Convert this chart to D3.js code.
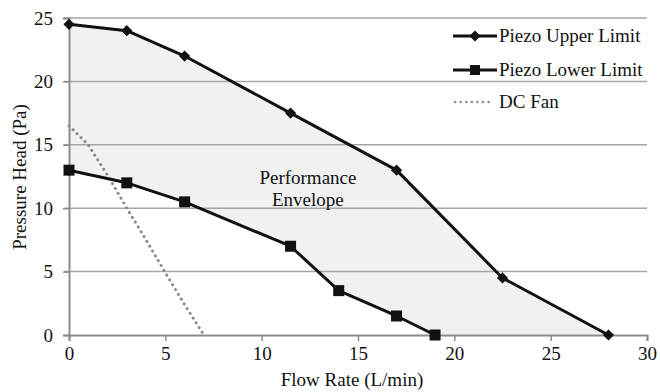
<!DOCTYPE html>
<html>
<head>
<meta charset="utf-8">
<script src="https://cdn.jsdelivr.net/npm/d3@7"></script>
</head>
<body style="margin:0;background:#fff">
<svg id="chart" width="660" height="392"></svg>
<script>
// data
const upperFlow = [0, 3, 6, 11.5, 17, 22.5, 28];
const upperHead = [24.5, 24, 22, 17.5, 13, 4.5, 0];
const lowerFlow = [0, 3, 6, 11.5, 14, 17, 19];
const lowerHead = [13, 12, 10.5, 7, 3.5, 1.5, 0];
const fanFlow = [0, 1, 2, 3, 4, 5, 6, 7];
const fanHead = [16.5, 15, 12.6, 10, 7.5, 4.9, 2.4, 0];
const xTicks = [0, 5, 10, 15, 20, 25, 30];
const yTicks = [0, 5, 10, 15, 20, 25];

const zip = (xs, ys) => xs.map((x, i) => ({ x: x, y: ys[i] }));
const upper = zip(upperFlow, upperHead);
const lower = zip(lowerFlow, lowerHead);
const fan = zip(fanFlow, fanHead);

const margin = { top: 18, right: 13, bottom: 57, left: 69 };
const width = 660, height = 392;
const chartW = width - margin.left - margin.right;
const chartH = height - margin.top - margin.bottom;

const svg = d3.select('#chart');
const g = svg.append('g').attr('transform', `translate(${margin.left},${margin.top})`);

const x = d3.scaleLinear().domain([0, 30]).range([0, chartW]);
const y = d3.scaleLinear().domain([0, 25]).range([chartH, 0]);

const line = d3.line().x(d => x(d.x)).y(d => y(d.y));

// envelope fill between the two limits
const envelope = upper.concat(lower.slice().reverse());
g.append('path')
  .attr('d', line(envelope) + 'Z')
  .attr('fill', '#f1f1f1');

// horizontal gridlines
g.append('g')
  .selectAll('line')
  .data(yTicks.filter(d => d > 0))
  .join('line')
  .attr('x1', -5).attr('x2', chartW)
  .attr('y1', d => y(d)).attr('y2', d => y(d))
  .attr('stroke', '#a6a6a6').attr('stroke-width', 1.5);

// x axis
const xAxis = g.append('g')
  .attr('transform', `translate(0,${chartH})`)
  .call(d3.axisBottom(x).tickValues(xTicks).tickSize(6).tickPadding(6));
xAxis.attr('font-family', null).attr('font-size', null);
xAxis.select('.domain').attr('stroke', '#8c8c8c').attr('stroke-width', 2);
xAxis.selectAll('.tick line').attr('stroke', '#8c8c8c').attr('stroke-width', 1.5);

// y axis
const yAxis = g.append('g')
  .call(d3.axisLeft(y).tickValues(yTicks).tickSize(6).tickPadding(10));
yAxis.attr('font-family', null).attr('font-size', null);
yAxis.select('.domain').attr('stroke', '#8c8c8c').attr('stroke-width', 2);
yAxis.selectAll('.tick line').attr('stroke', '#8c8c8c').attr('stroke-width', 1.5);

// DC fan curve
g.append('path')
  .attr('d', line(fan))
  .attr('fill', 'none')
  .attr('stroke', '#8c8c8c')
  .attr('stroke-width', 3)
  .attr('stroke-linecap', 'round')
  .attr('stroke-dasharray', '0.1 5.5');

// limit lines
[upper, lower].forEach(s => {
  g.append('path')
    .attr('d', line(s))
    .attr('fill', 'none')
    .attr('stroke', '#111')
    .attr('stroke-width', 3)
    .attr('stroke-linejoin', 'round');
});

const diamond = d3.symbol().type(d3.symbolDiamond2).size(80);
g.append('g').selectAll('path')
  .data(upper)
  .join('path')
  .attr('transform', d => `translate(${x(d.x)},${y(d.y)})`)
  .attr('d', diamond)
  .attr('fill', '#111');

g.append('g').selectAll('rect')
  .data(lower)
  .join('rect')
  .attr('x', d => x(d.x) - 5.5).attr('y', d => y(d.y) - 5.5)
  .attr('width', 11).attr('height', 11)
  .attr('fill', '#111');

// envelope label
const label = g.append('text')
  .attr('text-anchor', 'middle');
label.append('tspan').attr('x', x(12.4)).attr('y', y(11.9)).text('Performance');
label.append('tspan').attr('x', x(12.4)).attr('dy', 22).text('Envelope');

// axis titles
svg.append('text')
  .attr('x', margin.left + chartW / 2 - 6).attr('y', 386)
  .attr('text-anchor', 'middle')
  .text('Flow Rate (L/min)');

svg.append('text')
  .attr('transform', 'translate(26,177) rotate(-90)')
  .attr('text-anchor', 'middle')
  .text('Pressure Head (Pa)');

// legend
const legendItems = [
  { name: 'Piezo Upper Limit', kind: 'diamond', y: 36 },
  { name: 'Piezo Lower Limit', kind: 'square', y: 70 },
  { name: 'DC Fan', kind: 'dots', y: 102 }
];
const lg = svg.append('g').selectAll('g')
  .data(legendItems)
  .join('g')
  .attr('transform', d => `translate(453,${d.y})`);

lg.append('line')
  .attr('x1', d => d.kind === 'dots' ? 2 : 0)
  .attr('x2', d => d.kind === 'dots' ? 40 : 44)
  .attr('y1', 0).attr('y2', 0)
  .attr('stroke', d => d.kind === 'dots' ? '#8c8c8c' : '#111')
  .attr('stroke-width', d => d.kind === 'dots' ? 2.5 : 3)
  .attr('stroke-linecap', d => d.kind === 'dots' ? 'round' : 'butt')
  .attr('stroke-dasharray', d => d.kind === 'dots' ? '0.1 5.5' : null);

lg.filter(d => d.kind === 'diamond').append('path')
  .attr('transform', 'translate(22,0)')
  .attr('d', diamond)
  .attr('fill', '#111');

lg.filter(d => d.kind === 'square').append('rect')
  .attr('x', 17).attr('y', -5).attr('width', 10).attr('height', 10)
  .attr('fill', '#111');

lg.append('text')
  .attr('x', 46)
  .attr('dy', '0.33em')
  .text(d => d.name);

// one font for all text
svg.selectAll('text')
  .attr('font-family', 'Liberation Serif')
  .style('font-family', "'Liberation Serif'")
  .style('font-size', '19px')
  .style('fill', '#111');
</script>
</body>
</html>
